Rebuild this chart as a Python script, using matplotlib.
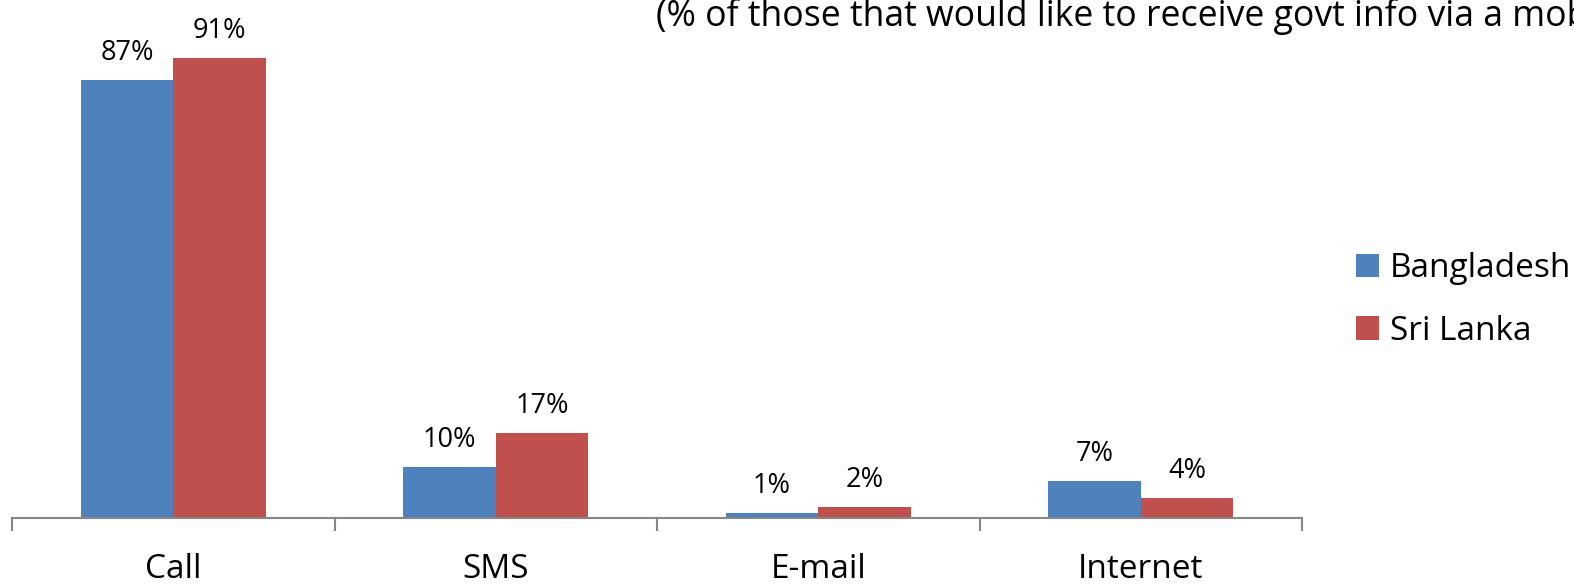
import matplotlib
matplotlib.use("Agg")
import matplotlib.pyplot as plt
from matplotlib.ticker import FixedLocator, NullFormatter, FixedFormatter
import numpy as np

categories = ["Call", "SMS", "E-mail", "Internet"]
series_names = ["Bangladesh", "Sri Lanka"]
bangladesh = [86.7, 10.1, 1.0, 7.3]
sri_lanka = [91.0, 16.8, 2.2, 4.0]
bangladesh_labels = ["87%", "10%", "1%", "7%"]
sri_lanka_labels = ["91%", "17%", "2%", "4%"]
title_text = "(% of those that would like to receive govt info via a mobile)"

colors = ["#4F81BD", "#C0504D"]
plt.rcParams['font.family'] = ['Open Sans', 'DejaVu Sans']

W, H = 1574, 585
fig = plt.figure(figsize=(W / 100, H / 100), dpi=100)
ax = fig.add_axes([12 / W, 67 / H, 1290 / W, 505 / H])

x = np.arange(len(categories))
bw = 0.287
b1 = ax.bar(x - bw / 2, bangladesh, bw, color=colors[0], label=series_names[0])
b2 = ax.bar(x + bw / 2, sri_lanka, bw, color=colors[1], label=series_names[1])

for bars, labs in ((b1, bangladesh_labels), (b2, sri_lanka_labels)):
    for rect, lab in zip(bars, labs):
        ax.annotate(lab, (rect.get_x() + rect.get_width() / 2, rect.get_height()),
                    xytext=(0, 14.5), textcoords="offset points",
                    ha="center", va="baseline", fontsize=19.5, color="black")

ax.set_xlim(-0.5, len(categories) - 0.5)
ax.set_ylim(0, 100)
for s in ["top", "right", "left"]:
    ax.spines[s].set_visible(False)
ax.spines["bottom"].set_color("#868686")
ax.spines["bottom"].set_linewidth(1.5)
ax.set_yticks([])

ax.xaxis.set_major_locator(FixedLocator(np.arange(len(categories) + 1) - 0.5))
ax.xaxis.set_major_formatter(NullFormatter())
ax.xaxis.set_minor_locator(FixedLocator(x))
ax.xaxis.set_minor_formatter(FixedFormatter(categories))
ax.tick_params(axis="x", which="major", length=9, width=1.5, color="#868686")
ax.tick_params(axis="x", which="minor", length=0, pad=25.5, labelsize=24)

fig.text(656 / W, 1 - 26 / H, title_text, fontsize=25.7, ha="left", va="baseline")

ax.legend(loc="upper left", bbox_to_anchor=(1356 / W, 1 - 252 / H),
          bbox_transform=fig.transFigure, frameon=False, fontsize=24,
          handlelength=0.69, handleheight=0.69, handletextpad=0.33,
          labelspacing=0.89, borderpad=0, borderaxespad=0)

fig.savefig("out.png", dpi=100)
